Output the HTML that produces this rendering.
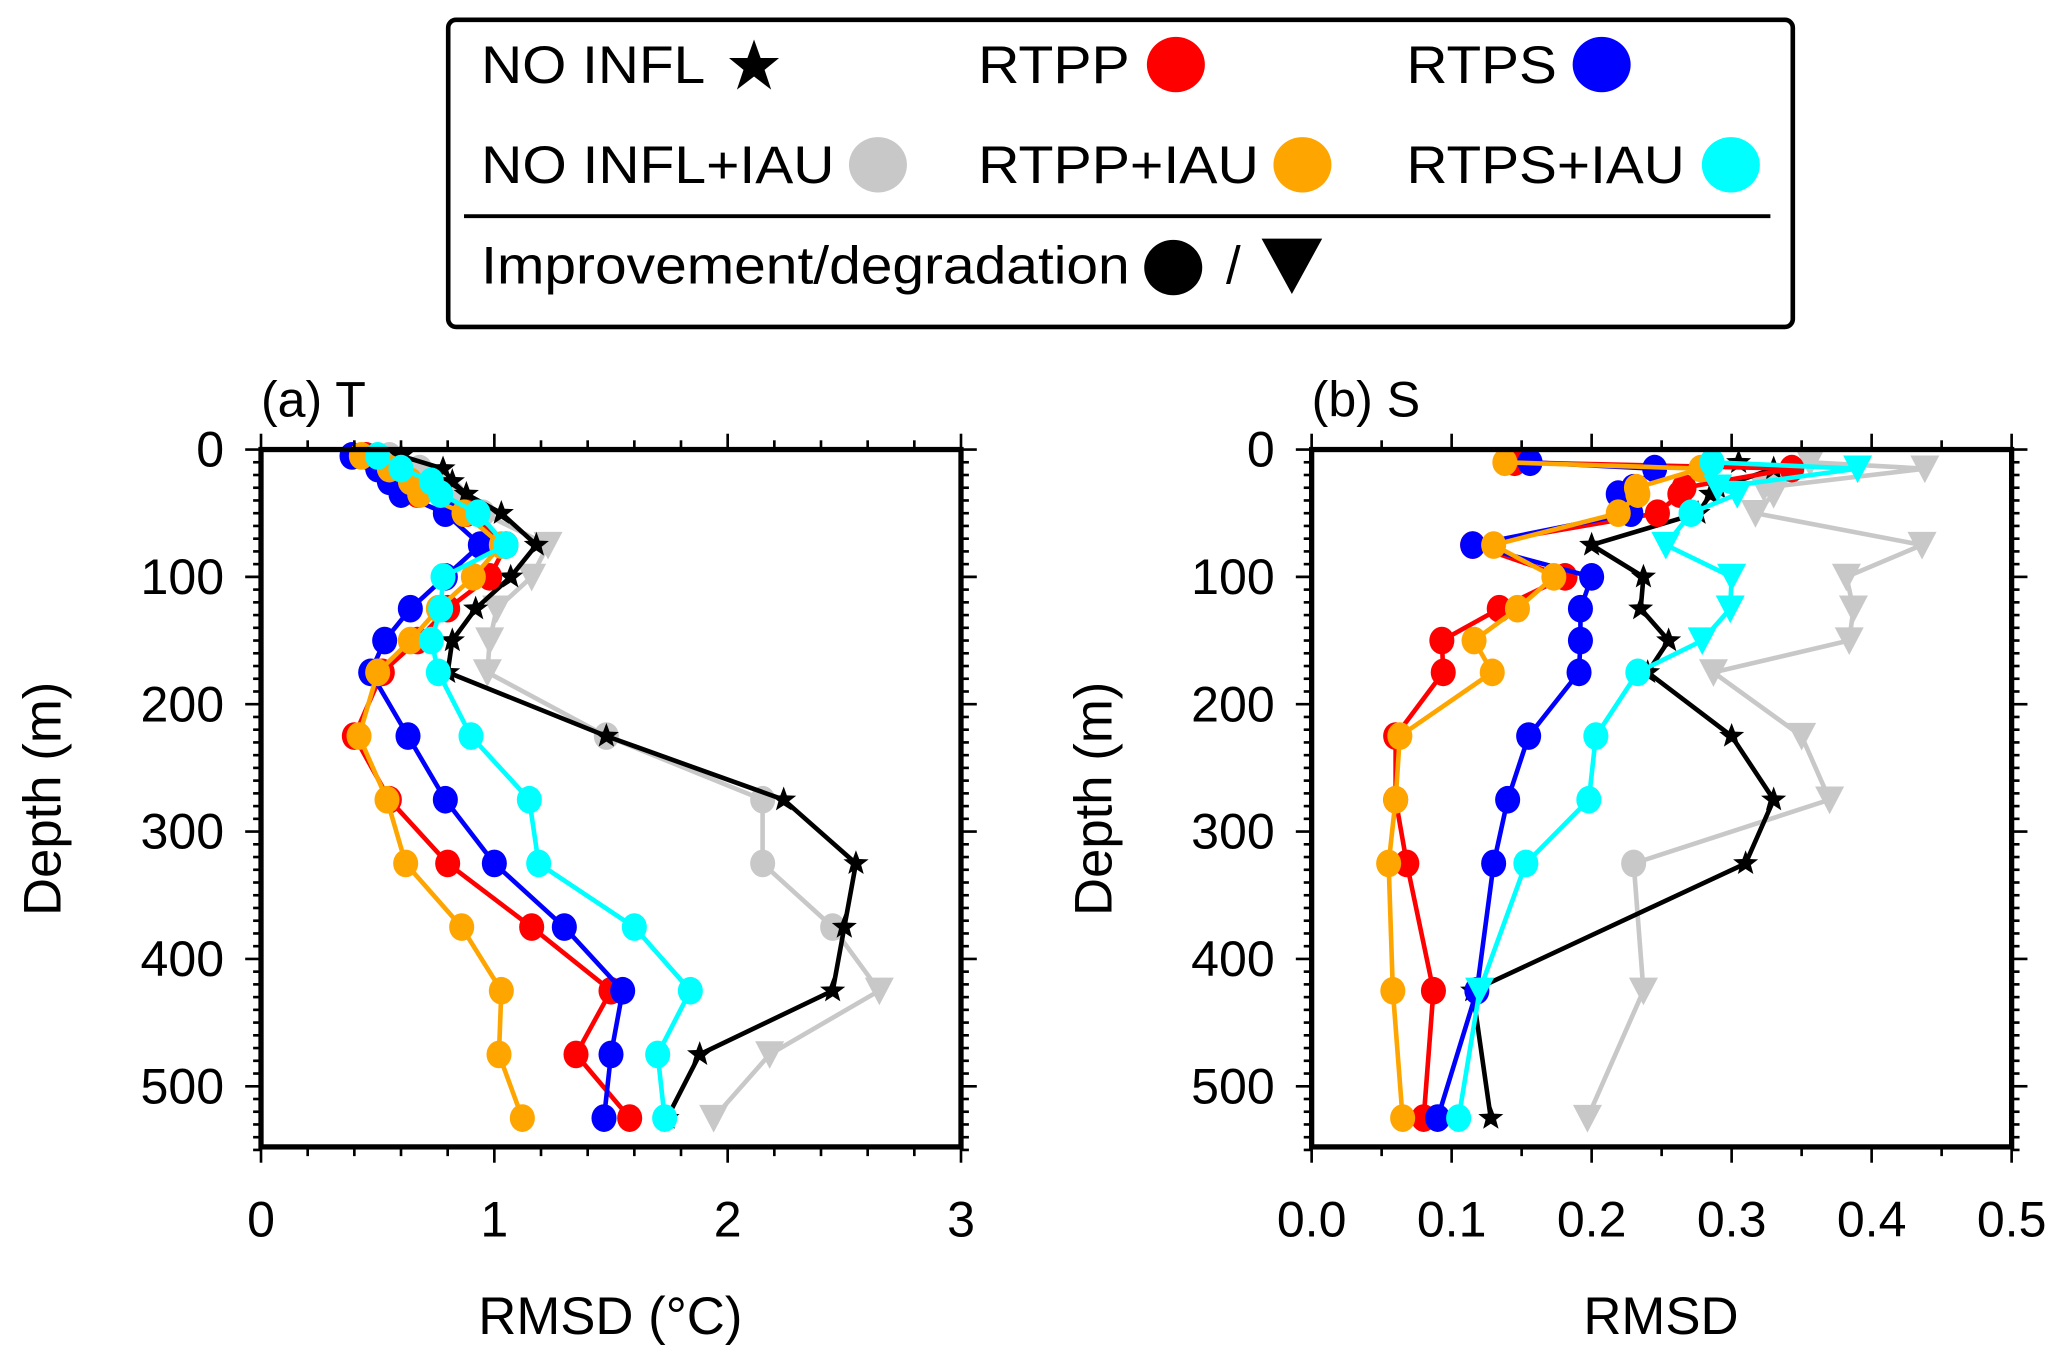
<!DOCTYPE html>
<html><head><meta charset="utf-8"><style>
html,body{margin:0;padding:0;background:#fff;}
svg{display:block;font-family:"Liberation Sans",Arial,sans-serif;}
</style></head><body>
<svg id="fig" width="2067" height="1366" viewBox="0 0 1568 1036.2" preserveAspectRatio="none" xmlns="http://www.w3.org/2000/svg">
<g id="legend">
<rect x="340" y="15" width="1020" height="233" rx="6" fill="#fff" stroke="#000" stroke-width="3.5"/>
<g><text x="365" y="63" font-size="40" textLength="170" lengthAdjust="spacingAndGlyphs">NO INFL</text><path d="M572,30 L577,44 L591,44 L580,53 L585,68 L572,58 L559,68 L564,53 L553,44 L567,44Z" fill="#000"/></g>
<g><text x="742" y="63" font-size="40" textLength="115" lengthAdjust="spacingAndGlyphs">RTPP</text><ellipse cx="892" cy="49" rx="22" ry="21" fill="#ff0000"/></g>
<g><text x="1067" y="63" font-size="40" textLength="114" lengthAdjust="spacingAndGlyphs">RTPS</text><ellipse cx="1215" cy="49" rx="22" ry="21" fill="#0000ff"/></g>
<g><text x="365" y="139" font-size="40" textLength="268" lengthAdjust="spacingAndGlyphs">NO INFL+IAU</text><ellipse cx="666" cy="125" rx="22" ry="21" fill="#c8c8c8"/></g>
<g><text x="742" y="139" font-size="40" textLength="213" lengthAdjust="spacingAndGlyphs">RTPP+IAU</text><ellipse cx="988" cy="125" rx="22" ry="21" fill="#ffa500"/></g>
<g><text x="1067" y="139" font-size="40" textLength="211" lengthAdjust="spacingAndGlyphs">RTPS+IAU</text><ellipse cx="1313" cy="125" rx="22" ry="21" fill="#00ffff"/></g>
<line x1="352" y1="164" x2="1343" y2="164" stroke="#000" stroke-width="3"/>
<g><text x="365" y="215" font-size="40" textLength="492" lengthAdjust="spacingAndGlyphs">Improvement/degradation</text><ellipse cx="890" cy="203" rx="22" ry="21" fill="#000"/><text x="930" y="215" font-size="40">/</text><path d="M957,181 L1003,181 L980,223Z" fill="#000"/></g>
</g>
<g id="panelA"></g>
<g id="panelB"></g>
</svg>
<script>
const NS="http://www.w3.org/2000/svg";
// Panel A data (RMSD °C)
const depthsA=[5,15,25,35,50,75,100,125,150,175,225,275,325,375,425,475,525];
const noInflA=[0.6,0.78,0.82,0.88,1.03,1.18,1.07,0.92,0.82,0.8,1.48,2.24,2.55,2.5,2.45,1.88,1.74];
const noInflIauA=[0.55,0.68,0.75,0.82,0.95,1.23,1.16,1.01,0.98,0.97,1.48,2.15,2.15,2.45,2.65,2.18,1.94];
const noInflIauMarkA=["c","c","c","c","c","t","t","t","t","t","c","c","c","c","t","t","t"];
const rtppA=[0.45,0.55,0.62,0.67,0.88,1.05,0.98,0.8,0.67,0.52,0.4,0.55,0.8,1.16,1.5,1.35,1.58];
const rtpsA=[0.39,0.5,0.55,0.6,0.79,0.94,0.79,0.64,0.53,0.47,0.63,0.79,1.0,1.3,1.55,1.5,1.47];
const rtppIauA=[0.43,0.55,0.64,0.68,0.87,1.03,0.91,0.76,0.64,0.5,0.42,0.54,0.62,0.86,1.03,1.02,1.12];
const rtpsIauA=[0.5,0.6,0.73,0.77,0.93,1.05,0.78,0.77,0.73,0.76,0.9,1.15,1.19,1.6,1.84,1.7,1.73];
const xTicksA=["0","1","2","3"];
// Panel B data (RMSD)
const depthsB=[10,15,30,35,50,75,100,125,150,175,225,275,325,425,525];
const noInflB=[0.305,0.33,0.29,0.285,0.276,0.2,0.237,0.235,0.255,0.24,0.3,0.33,0.31,0.115,0.128];
const noInflIauB=[0.356,0.438,0.323,0.33,0.317,0.436,0.382,0.387,0.384,0.287,0.35,0.37,0.23,0.237,0.197];
const noInflIauMarkB=["t","t","t","t","t","t","t","t","t","t","t","t","c","t","t"];
const rtppB=[0.145,0.343,0.266,0.263,0.247,0.115,0.181,0.134,0.093,0.094,0.06,0.06,0.068,0.087,0.08];
const rtpsB=[0.156,0.245,0.23,0.219,0.228,0.115,0.2,0.192,0.192,0.191,0.155,0.14,0.13,0.118,0.09];
const rtppIauB=[0.138,0.278,0.232,0.233,0.219,0.13,0.173,0.147,0.116,0.129,0.063,0.06,0.055,0.058,0.065];
const rtpsIauB=[0.286,0.39,0.29,0.304,0.271,0.253,0.3,0.299,0.279,0.233,0.203,0.198,0.153,0.12,0.105];
const rtpsIauMarkB=["c","t","t","t","c","t","t","t","t","c","c","c","c","t","c"];
const xTicksB=["0.0","0.1","0.2","0.3","0.4","0.5"];
const yTicks=[0,100,200,300,400,500];

function el(tag,attrs,parent){const e=document.createElementNS(NS,tag);for(const k in attrs)e.setAttribute(k,attrs[k]);parent.appendChild(e);return e;}

function drawPanel(g,cfg){
  const L=cfg.left,R=cfg.left+531,T=341,B=870;
  const sx=v=>L+(v/cfg.xmax)*531;
  const sy=d=>T+d*0.966;
  cfg.series.forEach(s=>{
    const sg=el("g",{},g);
    
    
    let pts=[];
    s.vals.forEach((v,i)=>{if(v!=null)pts.push([sx(v),sy(cfg.depths[i]),s.marks?s.marks[i]:s.mk]);});
    const pl=el("polyline",{points:pts.map(p=>p[0].toFixed(1)+","+p[1].toFixed(1)).join(" "),fill:"none",stroke:s.color,"stroke-width":3.5,"stroke-linejoin":"round"},sg);
    
    
    pts.forEach(p=>{
      let m;
      if(p[2]==="c"){m=el("ellipse",{cx:p[0],cy:p[1],rx:9.5,ry:10.5,fill:s.color},sg);}
      else if(p[2]==="t"){m=el("path",{d:`M${p[0]-11},${p[1]-10} L${p[0]+11},${p[1]-10} L${p[0]},${p[1]+11}Z`,fill:s.color},sg);}
      else {const r1=10,r2=4.2;let d="";for(let k=0;k<10;k++){const a=-Math.PI/2+k*Math.PI/5;const r=k%2?r2:r1;d+=(k?"L":"M")+(p[0]+r*Math.cos(a)).toFixed(1)+","+(p[1]+r*Math.sin(a)).toFixed(1);}m=el("path",{d:d+"Z",fill:s.color},sg);}
      
      
    });
  });
  const fr=el("rect",{x:L,y:T,width:531,height:B-T,fill:"none",stroke:"#000","stroke-width":4},g);
  
  
  const nMinor=Math.round(cfg.xmax/cfg.minor);
  for(let i=0;i<=nMinor;i++){
    const v=i*cfg.minor,x=sx(v);const major=Math.abs(v/cfg.major-Math.round(v/cfg.major))<1e-6;
    const len=major?12:7;
    el("line",{x1:x,y1:B,x2:x,y2:B+len,stroke:"#000","stroke-width":2},g);
    el("line",{x1:x,y1:T,x2:x,y2:T-len,stroke:"#000","stroke-width":2},g);
  }
  cfg.xticks.forEach((t,i)=>{
    const tx=el("text",{x:sx(i*cfg.major),y:938,"font-size":38,"text-anchor":"middle"},g);tx.textContent=t;
    
    
  });
  for(let d=0;d<=550;d+=10){
    const y=sy(d);const len=d%100===0?12:6;
    el("line",{x1:L,y1:y,x2:L-len,y2:y,stroke:"#000","stroke-width":2},g);
    el("line",{x1:R,y1:y,x2:R+len,y2:y,stroke:"#000","stroke-width":2},g);
  }
  yTicks.forEach(d=>{
    const tx=el("text",{x:L-28,y:sy(d)+13,"font-size":38,"text-anchor":"end"},g);tx.textContent=String(d);
    
    
  });
  const tt=el("text",{x:L,y:316,"font-size":38},g);tt.textContent=cfg.title;
  
  
  const xt=el("text",{x:L+265,y:1012,"font-size":40,"text-anchor":"middle"},g);xt.textContent=cfg.xtitle;
  
  
  const yt=el("text",{x:0,y:0,"font-size":40,"text-anchor":"middle",transform:`translate(${L-152},606) rotate(-90)`},g);yt.textContent="Depth (m)";
  
  
}
drawPanel(document.getElementById("panelA"),{left:198,xmax:3,major:1,minor:0.2,xticks:xTicksA,depths:depthsA,title:"(a) T",xtitle:"RMSD (°C)",
 series:[
  {name:"no-infl-iau-series",color:"#c8c8c8",vals:noInflIauA,marks:noInflIauMarkA},
  {name:"no-infl-series",color:"#000",vals:noInflA,mk:"s"},
  {name:"rtpp-series",color:"#ff0000",vals:rtppA,mk:"c"},
  {name:"rtps-series",color:"#0000ff",vals:rtpsA,mk:"c"},
  {name:"rtpp-iau-series",color:"#ffa500",vals:rtppIauA,mk:"c"},
  {name:"rtps-iau-series",color:"#00ffff",vals:rtpsIauA,mk:"c"}]});
drawPanel(document.getElementById("panelB"),{left:995,xmax:0.5,major:0.1,minor:0.05,xticks:xTicksB,depths:depthsB,title:"(b) S",xtitle:"RMSD",
 series:[
  {name:"no-infl-iau-series",color:"#c8c8c8",vals:noInflIauB,marks:noInflIauMarkB},
  {name:"no-infl-series",color:"#000",vals:noInflB,mk:"s"},
  {name:"rtpp-series",color:"#ff0000",vals:rtppB,mk:"c"},
  {name:"rtps-series",color:"#0000ff",vals:rtpsB,mk:"c"},
  {name:"rtpp-iau-series",color:"#ffa500",vals:rtppIauB,mk:"c"},
  {name:"rtps-iau-series",color:"#00ffff",vals:rtpsIauB,marks:rtpsIauMarkB}]});
</script>
</body></html>
